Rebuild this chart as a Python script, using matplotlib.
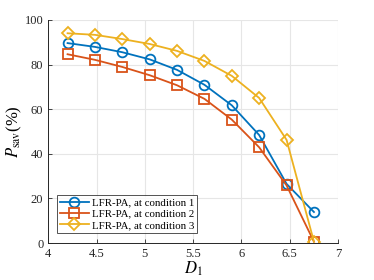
import numpy as np
import matplotlib
matplotlib.use('Agg')
import matplotlib.pyplot as plt

plt.rcParams['font.family'] = ['Liberation Serif', 'DejaVu Serif']
plt.rcParams['mathtext.fontset'] = 'stix'

# data
d1 = [4.2, 4.483, 4.767, 5.05, 5.333, 5.617, 5.9, 6.183, 6.467, 6.75]
cond1 = [89.6, 87.9, 85.5, 82.3, 77.6, 70.9, 61.7, 48.4, 26.5, 13.9]
cond2 = [84.6, 82.1, 78.9, 75.2, 70.7, 64.6, 55.3, 42.9, 25.8, 0.6]
cond3 = [94.0, 93.3, 91.4, 89.2, 86.1, 81.6, 74.9, 65.0, 46.2, 0.6]
labels = ['LFR-PA, at condition 1', 'LFR-PA, at condition 2', 'LFR-PA, at condition 3']
colors = ['#0072BD', '#D95319', '#EDB120']
markers = ['o', 's', 'D']
msizes = [7, 6.5, 6]

fig = plt.figure(figsize=(3.74, 2.8), dpi=100)
ax = fig.add_axes([0.129, 0.132, 0.775, 0.797])

for y, lab, c, m, ms in zip([cond1, cond2, cond3], labels, colors, markers, msizes):
    ax.plot(d1, y, color=c, marker=m, markersize=ms,
            markerfacecolor='none', markeredgewidth=1.3, linewidth=1.3, label=lab)

ax.set_xlim(4, 7)
ax.set_ylim(0, 100)
ax.set_xticks([4, 4.5, 5, 5.5, 6, 6.5, 7])
ax.set_xticklabels(['4', '4.5', '5', '5.5', '6', '6.5', '7'])
ax.set_yticks([0, 20, 40, 60, 80, 100])
ax.grid(True, color='#e6e6e6', linewidth=0.8)
ax.set_axisbelow(True)
for s in ['top', 'right']:
    ax.spines[s].set_visible(False)
for s in ['left', 'bottom']:
    ax.spines[s].set_color('#262626')
    ax.spines[s].set_linewidth(0.7)
ax.tick_params(labelsize=9, colors='#262626', direction='in', length=3, width=0.6)

ax.set_xlabel('$D_1$', fontsize=12, labelpad=0)
ax.set_ylabel('$P_{\\mathrm{sav}}$(%)', fontsize=12)
ax.yaxis.set_label_coords(-0.085, 0.5)

leg = ax.legend(loc='lower left', bbox_to_anchor=(0.012, 0.02), fontsize=7.8,
                frameon=True, fancybox=False, edgecolor='#262626',
                handlelength=2.6, borderpad=0.3, labelspacing=0.15, handletextpad=0.3)
leg.get_frame().set_linewidth(0.7)

fig.savefig('out.png', dpi=100)
